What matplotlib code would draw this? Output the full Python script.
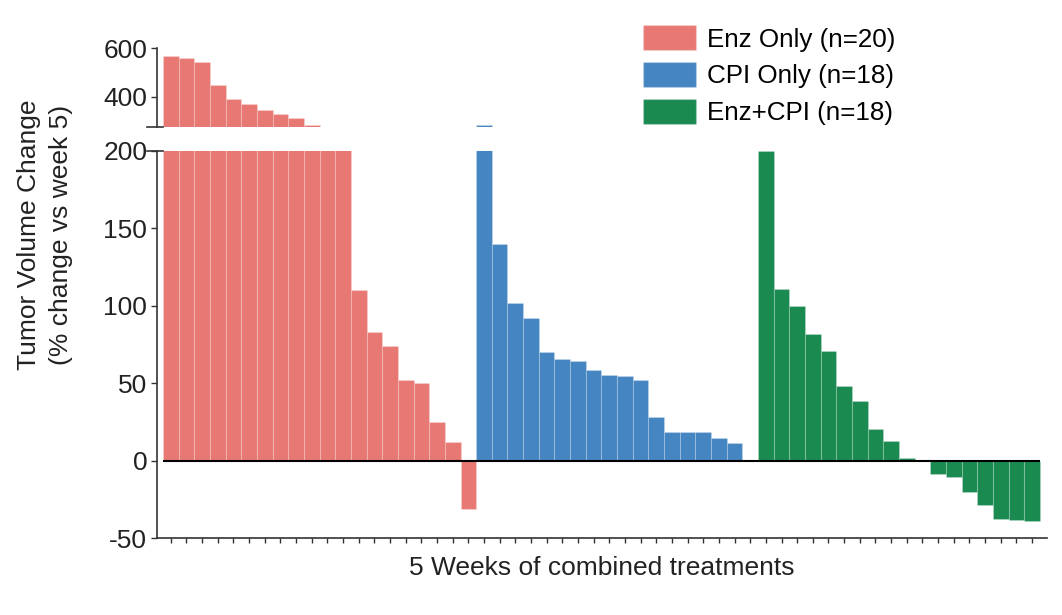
import numpy as np
import matplotlib
matplotlib.use('Agg')
import matplotlib.pyplot as plt
from matplotlib.patches import Patch

plt.rcParams['font.family'] = ['Liberation Sans', 'DejaVu Sans']
plt.rcParams['axes.unicode_minus'] = False

# values (% change vs week 5), sorted as in the waterfall
enz_only = [567, 561, 545, 448, 390, 368, 344, 326, 312, 280,
            250, 235, 110, 83, 74, 52, 50, 25, 12, -31]
cpi_only = [284, 139.6, 101.6, 91.7, 70.2, 65.7, 64.4, 58.4, 55.2, 54.3,
            51.7, 28.1, 18.7, 18.7, 18.7, 14.4, 11, 0.3]
enz_cpi = [200, 110.6, 99.4, 81.8, 70.9, 47.9, 38.7, 20.4, 12.9, 1.5,
           0.5, -8.4, -10.5, -20, -28.6, -38, -38.5, -38.8]

labels = ['Enz Only (n=20)', 'CPI Only (n=18)', 'Enz+CPI (n=18)']
colors = ['#E87873', '#4585C1', '#1A8A50']
groups = [enz_only, cpi_only, enz_cpi]

fig = plt.figure(figsize=(10.62, 6.15), dpi=100)
ax_top = fig.add_axes([0.1478, 0.794, 0.838, 0.1275])
ax = fig.add_axes([0.1478, 0.1252, 0.838, 0.630])

start = 0
for vals, col in zip(groups, colors):
    x = np.arange(start, start + len(vals))
    for a in (ax, ax_top):
        a.bar(x, vals, width=1.0, color=col, edgecolor=(1, 1, 1, 0.2), linewidth=0.8)
    start += len(vals)
n = start

for a in (ax, ax_top):
    a.set_xlim(-0.885, n - 0.05)
    for s in ['top', 'right']:
        a.spines[s].set_visible(False)
    a.spines['left'].set_color('#333333')
    a.spines['left'].set_linewidth(1.2)
    a.tick_params(axis='y', labelsize=19, length=4, width=1, pad=3,
                  color='#333333', labelcolor='#222222')

ax_top.set_ylim(275, 600)
ax_top.set_yticks([400, 600])
ax_top.spines['bottom'].set_visible(False)
ax_top.set_xticks([])

ax.set_ylim(-50, 200)
ax.set_yticks([-50, 0, 50, 100, 150, 200])
ax.set_xticks(np.arange(n))
ax.set_xticklabels([])
ax.spines['bottom'].set_color('#333333')
ax.spines['bottom'].set_linewidth(1.2)
ax.tick_params(axis='x', length=3.5, width=1, color='#333333')
ax.hlines(0, -0.5, n - 0.5, color='black', linewidth=1.5, zorder=3)

# break marks on the axis
ax_top.plot([-0.011, 0.007], [0, 0], transform=ax_top.transAxes, color='#333333', lw=1.2, clip_on=False)
ax.plot([-0.011, 0.007], [1, 1], transform=ax.transAxes, color='#333333', lw=1.2, clip_on=False)

ax.set_xlabel('5 Weeks of combined treatments', fontsize=19, color='#222222', labelpad=6)
fig.text(0.0424, 0.618, 'Tumor Volume Change\n(% change vs week 5)', rotation=90,
         fontsize=19, color='#222222', ha='center', va='center', linespacing=1.4)

handles = [Patch(facecolor=c, edgecolor=(1, 1, 1, 0.2)) for c in colors]
fig.legend(handles, labels, loc='upper left', bbox_to_anchor=(0.6055, 0.959), frameon=False,
           fontsize=18.7, handlelength=2.04, handleheight=1.1, labelspacing=0.4,
           handletextpad=0.42, borderaxespad=0, borderpad=0)

fig.savefig('out.png', dpi=100)
